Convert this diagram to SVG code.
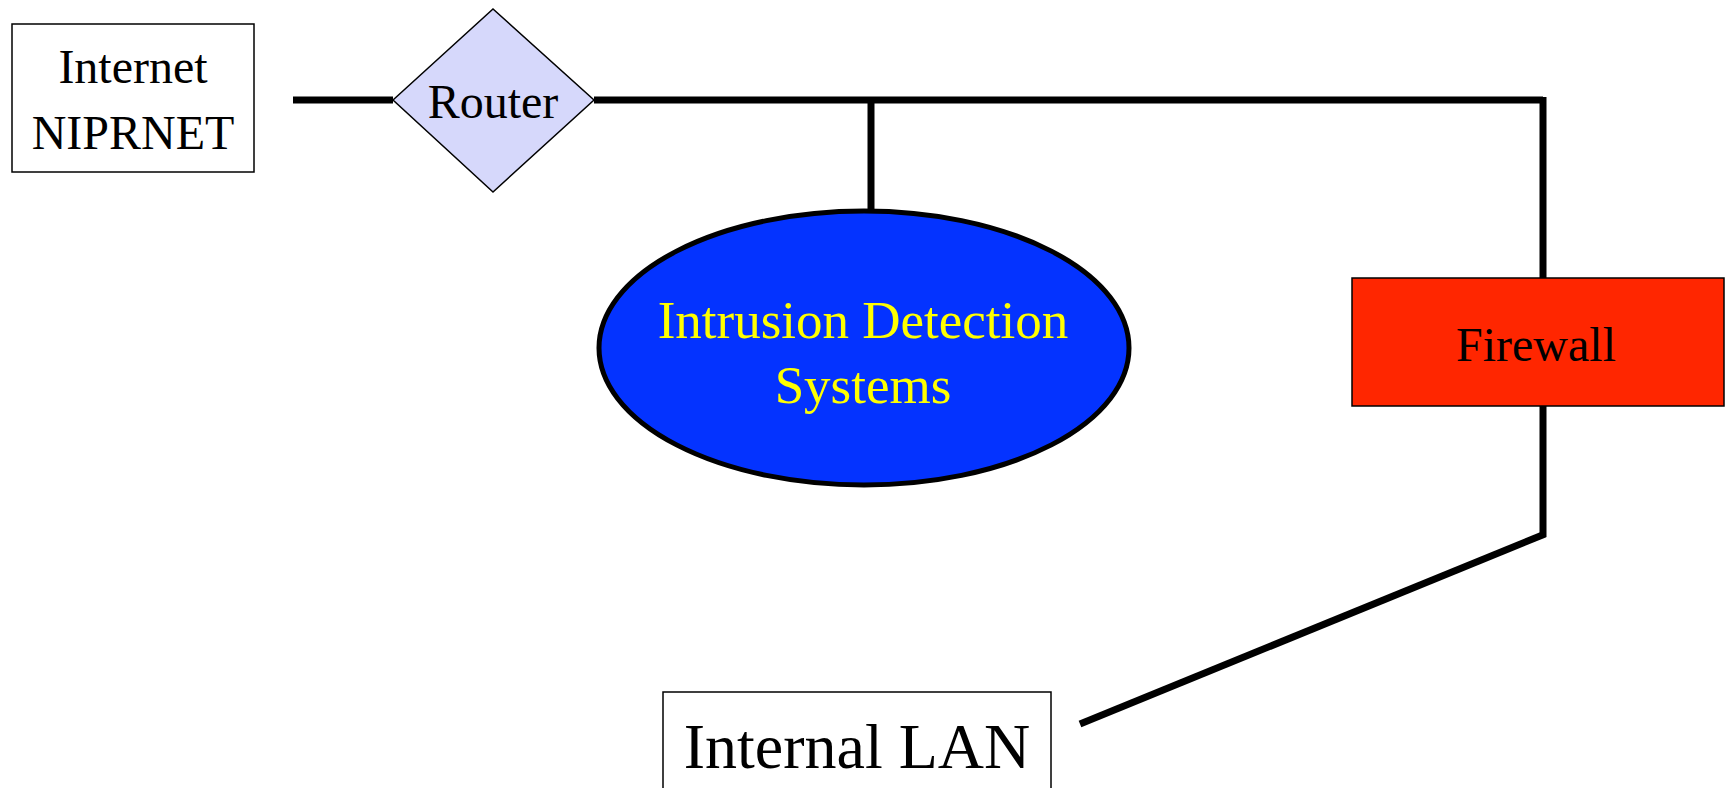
<svg xmlns="http://www.w3.org/2000/svg" width="1727" height="788" viewBox="0 0 1727 788">
  <style>
    .wire { stroke: #000; stroke-width: 7; fill: none; }
    .box { stroke: #000; stroke-width: 1.5; }
    .lbl { font-family: "Liberation Serif", "Times New Roman", serif; text-anchor: middle; }
  </style>
  <rect width="1727" height="788" fill="#fff"/>

  <!-- connectors -->
  <g id="connectors">
    <line class="wire" x1="293" y1="100" x2="393" y2="100"/>
    <line class="wire" x1="594" y1="100" x2="1543" y2="100"/>
    <line class="wire" x1="871" y1="100" x2="871" y2="211"/>
    <line class="wire" x1="1543" y1="97" x2="1543" y2="537"/>
    <line class="wire" x1="1545" y1="534" x2="1080" y2="724"/>
  </g>

  <!-- Internet / NIPRNET -->
  <g id="internet">
    <rect class="box" x="12" y="24" width="242" height="148" fill="#fff"/>
    <text class="lbl" x="133" y="83" font-size="48">Internet</text>
    <text class="lbl" x="133" y="149" font-size="48">NIPRNET</text>
  </g>

  <!-- Router -->
  <g id="router">
    <polygon class="box" points="393,100 493,9 594,100 493,192" fill="#d6d8fb"/>
    <text class="lbl" x="493" y="118" font-size="48">Router</text>
  </g>

  <!-- Intrusion Detection Systems -->
  <g id="ids">
    <ellipse cx="864" cy="348" rx="265" ry="137" fill="#0433ff" stroke="#000" stroke-width="5"/>
    <text class="lbl" x="863" y="338" font-size="53" fill="#ffff00">Intrusion Detection</text>
    <text class="lbl" x="863" y="403" font-size="53" fill="#ffff00">Systems</text>
  </g>

  <!-- Firewall -->
  <g id="firewall">
    <rect class="box" x="1352" y="278" width="372" height="128" fill="#ff2600"/>
    <text class="lbl" x="1536" y="361" font-size="48">Firewall</text>
  </g>

  <!-- Internal LAN -->
  <g id="internal-lan">
    <rect class="box" x="663" y="692" width="388" height="110" fill="#fff"/>
    <text class="lbl" x="857" y="768" font-size="64">Internal LAN</text>
  </g>
</svg>
